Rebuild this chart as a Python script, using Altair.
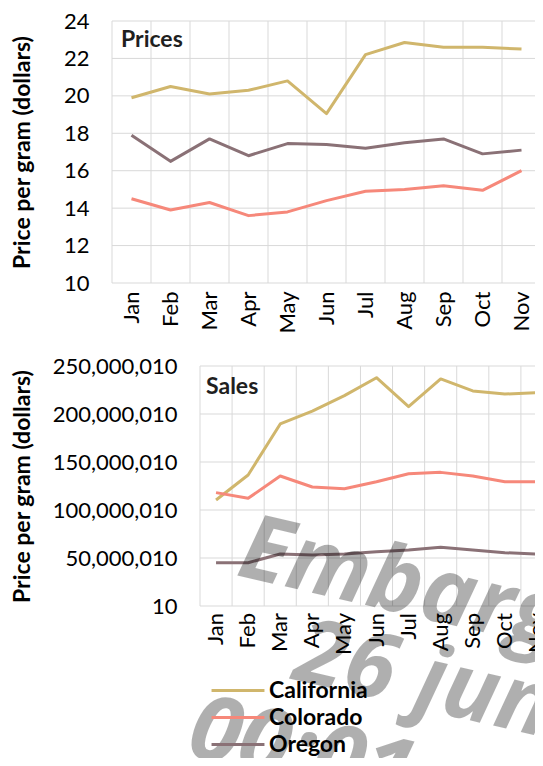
import altair as alt
import pandas as pd

months = ["Jan", "Feb", "Mar", "Apr", "May", "Jun", "Jul", "Aug", "Sep", "Oct", "Nov"]
states = ["California", "Colorado", "Oregon"]
state_colors = ["#d0b66c", "#f6887a", "#8a7176"]

price_california = [19.9, 20.5, 20.1, 20.3, 20.8, 19.05, 22.2, 22.85, 22.6, 22.6, 22.5]
price_colorado = [14.5, 13.9, 14.3, 13.6, 13.8, 14.4, 14.9, 15.0, 15.2, 14.95, 16.0]
price_oregon = [17.9, 16.5, 17.7, 16.8, 17.45, 17.4, 17.2, 17.5, 17.7, 16.9, 17.1]

sales_california = [110400000, 136500000, 189600000, 203100000, 219100000, 237800000,
                    207600000, 236500000, 224000000, 220800000, 222200000]
sales_colorado = [118100000, 112200000, 135400000, 124000000, 122200000, 129500000,
                  137800000, 139200000, 135400000, 129500000, 129500000]
sales_oregon = [45100000, 45100000, 54200000, 53100000, 54200000, 56600000,
                58300000, 61100000, 58300000, 55500000, 54200000]

price_ticks = [10, 12, 14, 16, 18, 20, 22, 24]
sales_ticks = [10, 50000010, 100000010, 150000010, 200000010, 250000010]

y_title = "Price per gram (dollars)"
panel_titles = ["Prices", "Sales"]
watermark_lines = ["Embargo", "26 june", "00:01"]

FONT = "Lato"
GRID = "#d9d9d9"
TEXT = "#000000"

# ---- layout: one canvas, two panels placed inside it (pixels) ----
CANVAS_W, CANVAS_H = 527, 750
TOP_L, TOP_R, TOP_T, TOP_B = 104, 533, 13, 275
BOT_L, BOT_R, BOT_T, BOT_B = 192, 545, 358, 598
TITLE_X = 14
WM_X = [227, 283, 177]
WM_Y = [567, 671, 747]


def long_df(series):
    rows = []
    for state, vals in zip(states, series):
        for m, v in zip(months, vals):
            rows.append({"month": m, "state": state, "value": v})
    return pd.DataFrame(rows)


prices_df = long_df([price_california, price_colorado, price_oregon])
sales_df = long_df([sales_california, sales_colorado, sales_oregon])
months_df = pd.DataFrame({"month": months})
price_ticks_df = pd.DataFrame({"value": price_ticks})
sales_ticks_df = pd.DataFrame({"value": sales_ticks})


def y_axis(ticks, fmt, left, top, bottom):
    return alt.Axis(orient="left", offset=-left, values=ticks, format=fmt,
                    title=y_title, titleFont=FONT, titleFontSize=23,
                    titleFontWeight="bold", titleColor=TEXT, titleAngle=270,
                    titleX=TITLE_X - left, titleY=(top + bottom) / 2,
                    titleBaseline="middle", titleAlign="center",
                    labelFont=FONT, labelFontSize=22, labelColor=TEXT, labelPadding=23,
                    ticks=False, tickSize=0, domain=False, grid=False)


def color_enc(legend):
    return alt.Color("state:N", scale=alt.Scale(domain=states, range=state_colors),
                     legend=legend)


def panel_label(text, px, py):
    return alt.Chart(pd.DataFrame({"t": [text]})).mark_text(
        align="left", baseline="top", font=FONT, fontSize=23, fontWeight="bold",
        color="#1f1f1f").encode(x=alt.value(px), y=alt.value(py), text="t:N")


# ---------------- top panel: prices ----------------
top_xscale = alt.Scale(type="band", paddingInner=0, paddingOuter=0, range=[TOP_L, TOP_R])
top_yscale = alt.Scale(domain=[10, 24], nice=False, zero=False, range=[TOP_B, TOP_T])
top_xaxis = alt.Axis(orient="bottom", offset=TOP_B - CANVAS_H, title=None, labelAngle=270,
                     labelFont=FONT, labelFontSize=22, labelColor=TEXT, labelPadding=8,
                     ticks=False, tickSize=0, domain=False, grid=False)


def tx(band_pos):
    return alt.X("month:N", sort=months, bandPosition=band_pos, scale=top_xscale,
                 axis=top_xaxis)


def ty():
    return alt.Y("value:Q", scale=top_yscale,
                 axis=y_axis(price_ticks, "d", TOP_L, TOP_T, TOP_B))


top_vgrid = alt.Chart(months_df).mark_rule(color=GRID, strokeWidth=1, clip=True).encode(
    x=tx(0), y=alt.value(TOP_T), y2=alt.value(TOP_B))
top_hgrid = alt.Chart(price_ticks_df).mark_rule(color=GRID, strokeWidth=1, clip=True).encode(
    y=ty(), x=alt.value(TOP_L), x2=alt.value(TOP_R))
top_lines = alt.Chart(prices_df).mark_line(strokeWidth=3, strokeJoin="round", clip=True).encode(
    x=tx(0.5), y=ty(), color=color_enc(None))

top = alt.layer(top_vgrid, top_hgrid, top_lines,
                panel_label(panel_titles[0], TOP_L + 9, TOP_T + 8))

# ---------------- bottom panel: sales ----------------
bot_xscale = alt.Scale(type="band", paddingInner=0, paddingOuter=0, range=[BOT_L, BOT_R])
bot_yscale = alt.Scale(domain=[10, 250000010], nice=False, zero=False,
                       range=[BOT_B, BOT_T])


def bx(band_pos):
    return alt.X("month:N", sort=months, bandPosition=band_pos, scale=bot_xscale,
                 axis=None)


def by():
    return alt.Y("value:Q", scale=bot_yscale,
                 axis=y_axis(sales_ticks, ",d", BOT_L, BOT_T, BOT_B))


legend = alt.Legend(title=None, orient="none", legendX=202, legendY=669,
                    direction="vertical", symbolType="stroke", symbolStrokeWidth=3,
                    symbolSize=2800, labelFont=FONT, labelFontSize=23,
                    labelFontWeight="bold", labelColor=TEXT, labelOffset=3,
                    clipHeight=27, rowPadding=0, padding=0)

bot_vgrid = alt.Chart(months_df).mark_rule(color=GRID, strokeWidth=1, clip=True).encode(
    x=bx(0), y=alt.value(BOT_T), y2=alt.value(BOT_B))
bot_hgrid = alt.Chart(sales_ticks_df).mark_rule(color=GRID, strokeWidth=1, clip=True).encode(
    y=by(), x=alt.value(BOT_L), x2=alt.value(BOT_R))
bot_lines = alt.Chart(sales_df).mark_line(strokeWidth=3, strokeJoin="round", clip=True).encode(
    x=bx(0.5), y=by(), color=color_enc(legend))
bot_month_labels = alt.Chart(months_df).mark_text(
    angle=270, align="right", baseline="middle", font=FONT, fontSize=22, color=TEXT,
    clip=True).encode(x=bx(0.5), y=alt.value(BOT_B + 7), text="month:N")

watermark = [
    alt.Chart(pd.DataFrame({"t": [line]})).mark_text(
        align="left", baseline="alphabetic", angle=13, font="Open Sans", fontSize=91,
        fontStyle="italic", fontWeight="bold", color="#000000", opacity=0.31, clip=True,
    ).encode(x=alt.value(px), y=alt.value(py), text="t:N")
    for line, px, py in zip(watermark_lines, WM_X, WM_Y)
]

bottom = alt.layer(bot_vgrid, bot_hgrid, bot_lines, bot_month_labels,
                   panel_label(panel_titles[1], BOT_L + 6, BOT_T + 10), *watermark)

chart = alt.layer(top, bottom).resolve_scale(
    x="independent", y="independent", color="independent"
).properties(
    width=CANVAS_W, height=CANVAS_H, padding=0,
    view=alt.ViewBackground(stroke="transparent"),
)

chart.save("out.html", embed_options={"renderer": "svg", "actions": False})
